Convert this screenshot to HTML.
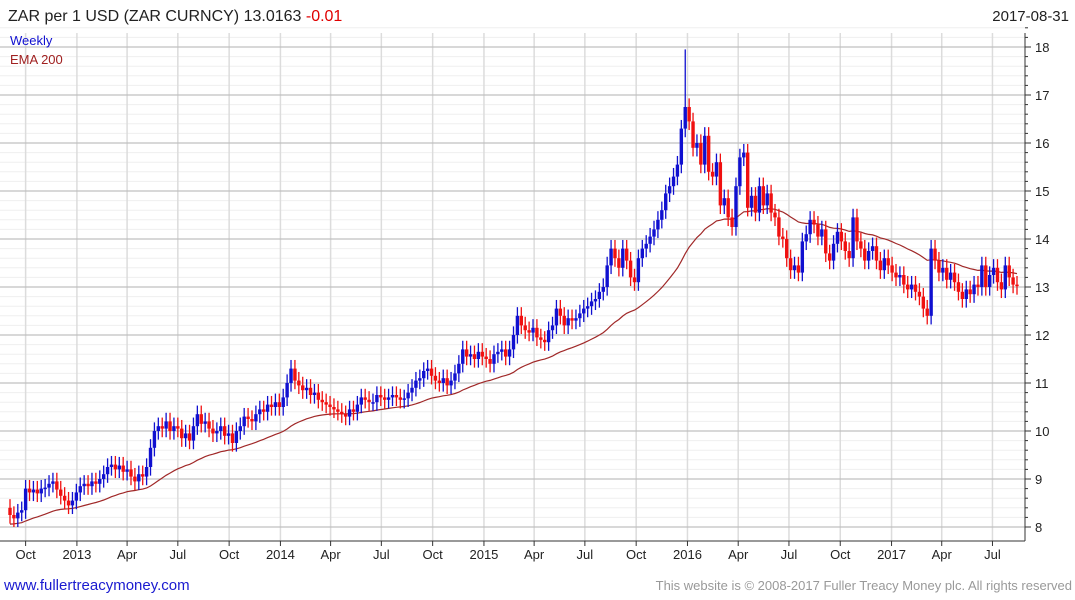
<!DOCTYPE html>
<html><head><meta charset="utf-8"><style>
body{margin:0;background:#fff;font-family:"Liberation Sans",sans-serif;}
#wrap{position:relative;width:1075px;height:600px;overflow:hidden;}
</style></head><body>
<div id="wrap">
<svg id="chart" width="1075" height="600" xmlns="http://www.w3.org/2000/svg">
<text x="8" y="21" font-size="16" fill="#222">ZAR per 1 USD (ZAR CURNCY) 13.0163 <tspan fill="#e00000">-0.01</tspan></text>
<text x="1069" y="21" font-size="15" fill="#222" text-anchor="end">2017-08-31</text>
<g id="grid"></g><g id="axes"></g><g id="ema"></g><g id="candles"></g>
<text x="10" y="45" font-size="13" fill="#1010d0">Weekly</text>
<text x="10" y="64" font-size="13" fill="#a02020">EMA 200</text>
<text x="4" y="590" font-size="15" fill="#1a1ad0">www.fullertreacymoney.com</text>
<text x="1072" y="590" font-size="13" fill="#999" text-anchor="end">This website is © 2008-2017 Fuller Treacy Money plc. All rights reserved</text>
</svg>
</div>
<script>
const closes=[8.25,8.18,8.30,8.35,8.80,
8.72,8.78,8.70,8.80,8.82,8.90,8.95,8.78,8.65,8.55,8.45,8.55,8.72,
8.85,8.90,8.85,8.95,8.90,9.00,9.10,9.25,9.30,9.20,9.28,9.15,9.20,
9.05,8.95,9.10,9.05,9.25,9.65,10.00,10.10,10.05,10.20,10.00,10.10,10.05,
9.85,9.95,9.80,10.10,10.35,10.15,10.20,10.05,9.95,10.00,10.10,9.90,9.95,
9.75,10.00,10.10,10.30,10.25,10.20,10.35,10.45,10.40,10.55,10.50,10.60,10.50,
10.70,11.00,11.30,11.05,10.95,10.85,10.90,10.75,10.80,10.65,10.60,10.55,10.50,
10.45,10.40,10.35,10.30,10.45,10.40,10.55,10.70,10.65,10.60,10.60,10.75,10.70,
10.65,10.70,10.75,10.70,10.65,10.68,10.80,10.90,11.05,11.10,11.25,11.30,11.15,
11.05,11.00,11.10,10.95,11.05,11.20,11.40,11.70,11.55,11.60,11.50,11.65,11.55,
11.50,11.40,11.60,11.65,11.70,11.55,11.70,12.00,12.40,12.20,12.10,12.05,12.15,
11.95,11.90,11.85,12.10,12.20,12.55,12.40,12.20,12.35,12.30,12.35,12.45,12.55,
12.60,12.70,12.75,12.90,13.00,13.45,13.80,13.60,13.40,13.80,13.55,13.20,13.10,
13.60,13.80,13.90,14.05,14.20,14.40,14.60,14.95,15.10,15.30,15.55,16.30,
16.75,16.45,15.90,16.00,15.55,16.15,15.40,15.30,15.60,14.70,14.85,14.45,14.25,
15.10,15.70,15.80,14.65,14.90,14.55,15.10,14.70,14.95,14.55,14.45,14.05,
14.00,13.60,13.35,13.45,13.30,13.95,14.10,14.40,14.30,14.05,14.20,13.70,13.55,
13.90,14.15,13.95,13.75,13.60,14.45,13.95,13.80,13.55,13.75,13.85,13.55,13.35,
13.60,13.45,13.30,13.20,13.25,13.05,12.95,13.05,12.90,12.80,12.55,12.40,13.80,
13.55,13.30,13.40,13.15,13.30,13.10,12.90,12.75,12.95,12.85,13.05,13.00,13.45,
13.00,13.25,13.40,13.10,12.95,13.45,13.20,13.05,13.02];
const firstOpen=[8.40];
const emaSeed=[8.05];
const spikeIndex=[173];
const spikeHigh=[17.95];
const yTicks=[8,9,10,11,12,13,14,15,16,17,18];
const xLabels=["Oct","2013","Apr","Jul","Oct","2014","Apr","Jul","Oct","2015","Apr","Jul","Oct","2016","Apr","Jul","Oct","2017","Apr","Jul"];
const xLabelDates=["2012-10-01","2013-01-01","2013-04-01","2013-07-01","2013-10-01","2014-01-01","2014-04-01","2014-07-01","2014-10-01","2015-01-01","2015-04-01","2015-07-01","2015-10-01","2016-01-01","2016-04-01","2016-07-01","2016-10-01","2017-01-01","2017-04-01","2017-07-01"];
const NS="http://www.w3.org/2000/svg";
const L=0,R=1025,T=33,B=541,X0=10,DX=(1017-10)/(closes.length-1);
const y=v=>527-(v-8)*48;
const xi=i=>X0+i*DX;
const t0=Date.UTC(2012,8,3);
const xd=s=>{const p=s.split('-');return X0+(Date.UTC(+p[0],p[1]-1,+p[2])-t0)/864e5/7*DX;};
function mk(tag,a,p){const e=document.createElementNS(NS,tag);for(const k in a)e.setAttribute(k,a[k]);p.appendChild(e);return e;}
const g=document.getElementById('grid'),ax=document.getElementById('axes');
for(let v=8;v<=18.4;v+=0.2){const vv=Math.round(v*10)/10;if(Math.abs(vv-Math.round(vv))<0.01)continue;
 const ln=mk('line',{x1:L,x2:R,y1:y(vv),y2:y(vv),stroke:'#efefef','stroke-width':1},g);
 
 const tk=mk('line',{x1:R,x2:R+3,y1:y(vv),y2:y(vv),stroke:'#333'},ax);
 }
xLabelDates.forEach((d,k)=>{const x=xd(d);
 const ln=mk('line',{x1:x,x2:x,y1:T,y2:B,stroke:'#dcdcdc','stroke-width':1.5},g);
 
 const tk=mk('line',{x1:x,x2:x,y1:B,y2:B+5,stroke:'#333'},ax);
 
 const t=mk('text',{x:x,y:B+18,'font-size':13,fill:'#222','text-anchor':'middle'},ax);t.textContent=xLabels[k];
 });
yTicks.forEach(v=>{
 const ln=mk('line',{x1:L,x2:R,y1:y(v),y2:y(v),stroke:'#c0c0c0','stroke-width':1.2},g);
 
 const tk=mk('line',{x1:R,x2:R+6,y1:y(v),y2:y(v),stroke:'#333'},ax);
 
 const t=mk('text',{x:R+10,y:y(v)+5,'font-size':13,fill:'#222'},ax);t.textContent=v;
 });
const ra=mk('line',{x1:R,x2:R,y1:T,y2:B,stroke:'#333'},ax);
const ba=mk('line',{x1:L,x2:R,y1:B,y2:B,stroke:'#333'},ax);
const alpha=2/41;let e=emaSeed[0];const pts=[];
closes.forEach((c,i)=>{e=e+alpha*(c-e);pts.push(xi(i).toFixed(1)+','+y(e).toFixed(1));});
const pl=mk('polyline',{points:pts.join(' '),fill:'none',stroke:'#a02828','stroke-width':1.2},document.getElementById('ema'));

const cg=document.getElementById('candles');
closes.forEach((c,i)=>{const o=i?closes[i-1]:firstOpen[0];const up=c>=o;const col=up?'#1010d0':'#f01010';
 const grp=mk('g',{},cg);
 let hi=Math.max(o,c)+0.18;const lo=Math.min(o,c)-0.18,x=xi(i);
 const si=spikeIndex.indexOf(i);if(si>=0)hi=spikeHigh[si];
 mk('line',{x1:x,x2:x,y1:y(hi),y2:y(lo),stroke:col,'stroke-width':1.3},grp);
 const top=y(Math.max(o,c)),h=Math.max(1.5,y(Math.min(o,c))-top);
 mk('rect',{x:x-1.7,y:top,width:3.4,height:h,fill:col},grp);});
</script>
</body></html>
